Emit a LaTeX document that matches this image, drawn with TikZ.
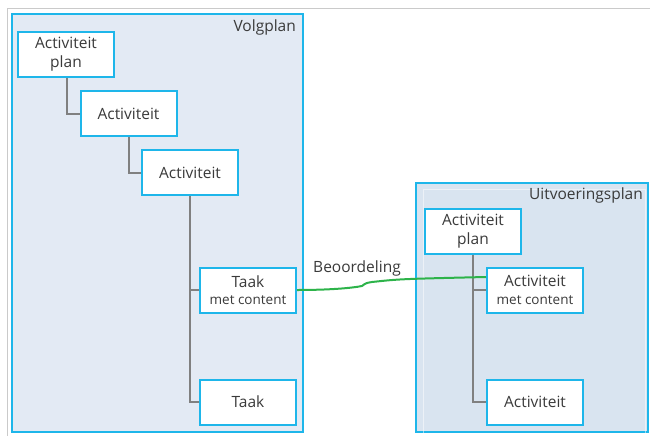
\documentclass[tikz,border=0pt]{standalone}
\usepackage{fontspec}
\setmainfont{Open Sans}
\definecolor{boxcyan}{HTML}{1EB6EA}
\definecolor{vpfill}{HTML}{E3EAF4}
\definecolor{upfill}{HTML}{D9E4F0}
\definecolor{linkgray}{HTML}{808080}
\definecolor{linkgreen}{HTML}{2DB34A}
\definecolor{txt}{HTML}{3A3A3A}
\definecolor{frame}{HTML}{CACACA}
\begin{document}
\begin{tikzpicture}[x=1pt,y=-1pt,
  item/.style={draw=boxcyan,line width=2pt,fill=white,minimum width=96pt,minimum height=45pt,
    inner sep=0pt,align=center,text=txt,font=\fontsize{15.5}{19}\selectfont},
  container/.style={draw=boxcyan,line width=2pt},
  tree/.style={draw=linkgray,line width=2pt},
  title/.style={text=txt,font=\fontsize{15.5}{18}\selectfont,inner sep=0pt}]
\useasboundingbox (0,0) rectangle (650,436);
\draw[frame,line width=1pt] (7,436) -- (7,9) -- (650,9);
% containers
\draw[container,fill=vpfill] (12,14) rectangle (303,432);
\node[title,anchor=north east] (vpt) at (296,20) {Volgplan};
\draw[container,fill=upfill] (416,183) rectangle (648,432);
\draw[draw=white,opacity=0.5,line width=1pt] (423,436) -- (423,189) -- (645,189) -- (645,436);
\node[title,anchor=north east] (upt) at (643,188) {Uitvoeringsplan};
% left nodes
\node[item] (vp1) at (66,54.5) {Activiteit\\plan};
\node[item] (vp2) at (128.5,113.5) {Activiteit};
\node[item] (vp3) at (190,172.5) {Activiteit};
\node[item] (vt1) at (248,290) {Taak\\[-1.5pt]{\fontsize{13.5}{16}\selectfont met content}};
\node[item] (vt2) at (248,402) {Taak};
% right nodes
\node[item] (up1) at (473,231) {Activiteit\\plan};
\node[item] (um) at (535,290) {Activiteit\\[-1.5pt]{\fontsize{13.5}{16}\selectfont met content}};
\node[item] (ua) at (535,402) {Activiteit};
% tree connectors
\draw[tree] ([xshift=1pt]vp1.south) |- (vp2.west);
\draw[tree] (vp2.south) |- (vp3.west);
\draw[tree] (vp3.south) |- (vt1.west);
\draw[tree] (vp3.south) |- (vt2.west);
\draw[tree] (up1.south) |- (um.west);
\draw[tree] (up1.south) |- (ua.west);
% green link
\coordinate (gend) at ([yshift=13pt]um.west);
\draw[linkgreen,line width=2pt] (vt1.east) .. controls (330,290) and (352,288) .. (362,286)
   .. controls (366,283) .. (372,282) .. controls (400,279) .. (gend);
\node[title] (lab) at (357,268) {Beoordeling};
\end{tikzpicture}
\end{document}
